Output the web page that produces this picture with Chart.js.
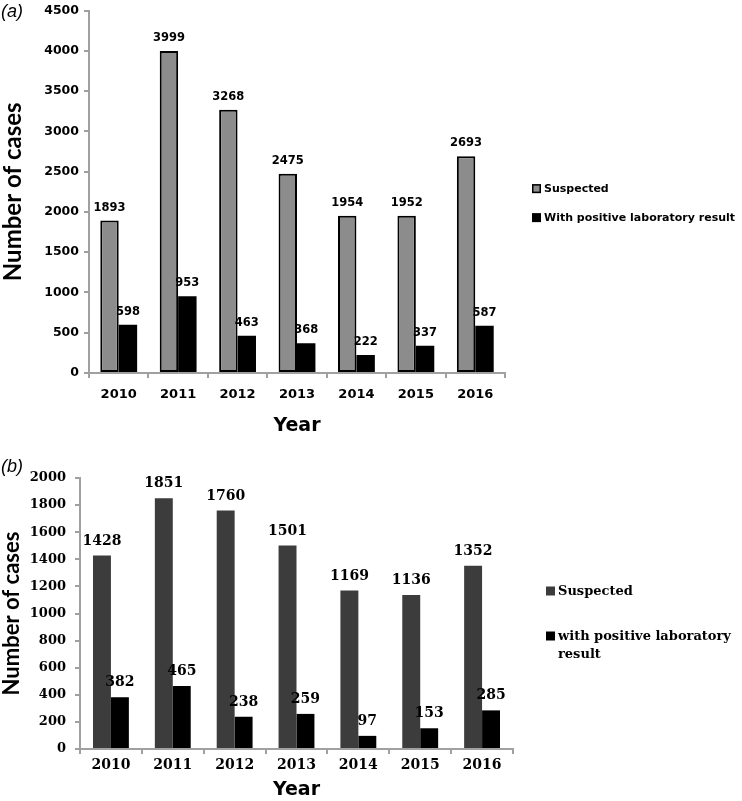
<!DOCTYPE html>
<html>
<head>
<meta charset="utf-8">
<script src="https://cdn.jsdelivr.net/npm/chart.js@4.4.1/dist/chart.umd.min.js"></script>
<style>
  body { margin: 0; background: #fff; }
  .panel { position: relative; width: 742px; }
  .tag { position: absolute; left: 1px; font: italic 18px "Liberation Sans", sans-serif; color: #000; }
  canvas { display: block; }
</style>
</head>
<body>
<div class="panel">
  <canvas id="chartA" width="742" height="440"></canvas>
  <div class="tag" style="top:1px">(a)</div>
</div>
<div class="panel">
  <canvas id="chartB" width="742" height="361"></canvas>
  <div class="tag" style="top:16px">(b)</div>
</div>
<script>
/* global Chart */

const years = ['2010', '2011', '2012', '2013', '2014', '2015', '2016'];

// panel (a)
const suspectedA = [1893, 3999, 3268, 2475, 1954, 1952, 2693];
const positiveA = [598, 953, 463, 368, 222, 337, 587];
const legendA = [['Suspected'], ['With positive laboratory result']];

// panel (b)
const suspectedB = [1428, 1851, 1760, 1501, 1169, 1136, 1352];
const positiveB = [382, 465, 238, 259, 97, 153, 285];
const legendB = [['Suspected'], ['with positive laboratory', 'result']];

// value printed above every bar
function barLabels(font, offset) {
  return {
    id: 'barLabels',
    afterDatasetsDraw(chart) {
      const ctx = chart.ctx;
      ctx.save();
      ctx.font = font;
      ctx.fillStyle = '#000';
      ctx.textAlign = 'center';
      ctx.textBaseline = 'alphabetic';
      chart.data.datasets.forEach((ds, i) => {
        chart.getDatasetMeta(i).data.forEach((bar, j) => {
          ctx.fillText(String(ds.data[j]), bar.x, bar.y - offset);
        });
      });
      ctx.restore();
    }
  };
}

// legend to the right of the plot, like the Excel original
function sideLegend(lines, o) {
  return {
    id: 'sideLegend',
    afterDraw(chart) {
      const { ctx, chartArea } = chart;
      ctx.save();
      ctx.font = o.font;
      ctx.textBaseline = 'middle';
      ctx.textAlign = 'left';
      chart.data.datasets.forEach((ds, i) => {
        const x = chartArea.right + o.dx;
        const y = chartArea.top + o.dy[i];
        ctx.fillStyle = ds.backgroundColor;
        ctx.fillRect(x, y - o.box / 2, o.box, o.box);
        if (ds.borderWidth) {
          ctx.lineWidth = 1.5;
          ctx.strokeStyle = ds.borderColor;
          ctx.strokeRect(x + 0.75, y - o.box / 2 + 0.75, o.box - 1.5, o.box - 1.5);
        }
        ctx.fillStyle = '#000';
        lines[i].forEach((t, k) => ctx.fillText(t, x + o.box + o.gap, y + 1 + k * o.lineHeight));
      });
      ctx.restore();
    }
  };
}

function makeChart(id, s) {
  return new Chart(document.getElementById(id), {
    type: 'bar',
    data: {
      labels: years,
      datasets: [{
        label: s.names[0],
        data: s.suspected,
        backgroundColor: s.grey,
        borderColor: '#000',
        borderWidth: s.greyBorder,
        borderSkipped: false,
        categoryPercentage: s.catPct,
        barPercentage: 1
      }, {
        label: s.names[1],
        data: s.positive,
        backgroundColor: '#000',
        borderWidth: 0,
        categoryPercentage: s.catPct,
        barPercentage: 1
      }]
    },
    options: {
      responsive: false,
      animation: false,
      layout: { padding: { top: s.padTop, right: s.padRight, left: 0, bottom: 0 } },
      plugins: { legend: { display: false }, tooltip: { enabled: false } },
      scales: {
        x: {
          grid: { display: true, drawOnChartArea: false, drawTicks: true, tickLength: 5, color: '#a0a0a0', lineWidth: 2, offset: true },
          border: { display: true, color: '#a0a0a0', width: 2 },
          ticks: { color: '#000', padding: s.xTickPad, font: s.xTickFont, maxRotation: 0 },
          title: { display: true, text: 'Year', color: '#000', padding: { top: 0, bottom: s.xTitlePad }, font: { family: 'DejaVu Sans', size: 19, weight: 'bold' } },
          afterFit: (scale) => { scale.height = s.xHeight; }
        },
        y: {
          min: 0,
          max: s.max,
          grid: { display: true, drawOnChartArea: false, drawTicks: true, tickLength: 5, color: '#a0a0a0', lineWidth: 2 },
          border: { display: true, color: '#a0a0a0', width: 2 },
          ticks: { stepSize: s.step, color: '#000', padding: s.yTickPad, font: s.yTickFont, callback: (v) => String(v) },
          title: { display: true, text: 'Number of cases', color: '#000', padding: { top: 0, bottom: 0 }, font: { family: 'Lato', size: s.yTitleSize, weight: 'bold', lineHeight: 1.1 } },
          afterFit: (scale) => { scale.width = s.yWidth; }
        }
      }
    },
    plugins: [barLabels(s.labelFont, s.labelOffset), sideLegend(s.legendLines, s.legend)]
  });
}

makeChart('chartA', {
  names: ['Suspected', 'With positive laboratory result'],
  suspected: suspectedA,
  positive: positiveA,
  grey: '#8c8c8c',
  greyBorder: 2,
  catPct: 0.62,
  max: 4500,
  step: 500,
  padTop: 0,
  padRight: 237,
  xHeight: 67,
  yWidth: 89,
  xTickPad: 9,
  yTickPad: 5,
  xTitlePad: 3,
  yTitleSize: 24,
  xTickFont: { family: 'DejaVu Sans', size: 13, weight: 'bold' },
  yTickFont: { family: 'DejaVu Sans', size: 12.5, weight: 'bold', lineHeight: 0.9 },
  labelFont: 'bold 11.5px "DejaVu Sans"',
  labelOffset: 10,
  legendLines: legendA,
  legend: { font: 'bold 11px "DejaVu Sans"', dx: 27, dy: [178, 207], box: 9, gap: 3, lineHeight: 16 }
});

makeChart('chartB', {
  names: ['Suspected', 'with positive laboratory result'],
  suspected: suspectedB,
  positive: positiveB,
  grey: '#3c3c3c',
  greyBorder: 0,
  catPct: 0.58,
  max: 2000,
  step: 200,
  padTop: 38,
  padRight: 229,
  xHeight: 52,
  yWidth: 80,
  xTickPad: 3,
  yTickPad: 9,
  xTitlePad: 0,
  yTitleSize: 22,
  xTickFont: { family: 'DejaVu Serif', size: 14, weight: 'bold' },
  yTickFont: { family: 'DejaVu Serif', size: 13, weight: 'bold' },
  labelFont: 'bold 14px "DejaVu Serif"',
  labelOffset: 11,
  legendLines: legendB,
  legend: { font: 'bold 13px "DejaVu Serif"', dx: 33, dy: [113, 158], box: 9, gap: 3, lineHeight: 18 }
});
</script>
</body>
</html>
